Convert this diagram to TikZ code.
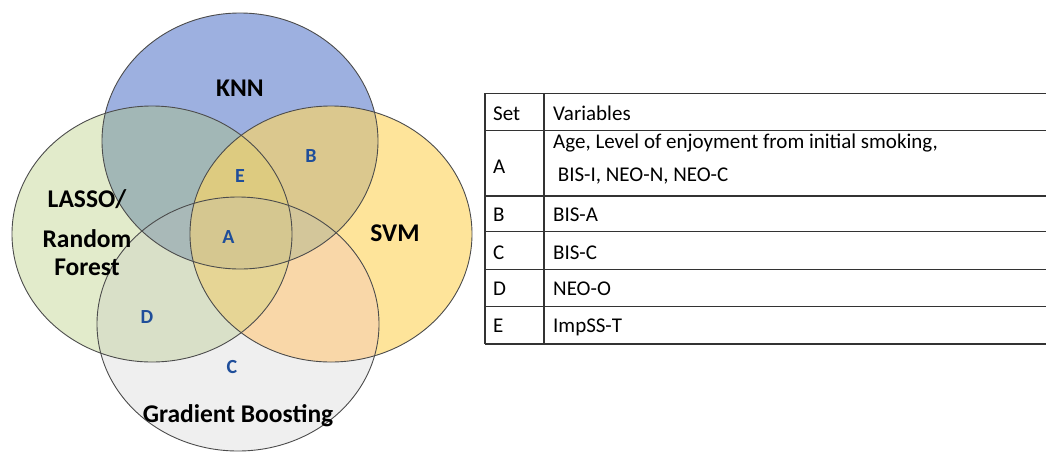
\documentclass[tikz,border=0pt]{standalone}
\usepackage{fontspec}
\setmainfont{Carlito}
\usepackage{tikz}

\definecolor{knnblue}{RGB}{59,97,193}
\definecolor{lassogreen}{RGB}{172,198,106}
\definecolor{svmyellow}{RGB}{254,214,100}
\definecolor{gbgrey}{RGB}{191,191,191}
\definecolor{gbpeach}{RGB}{255,215,172}
\definecolor{setblue}{RGB}{31,78,154}

\begin{document}
\begin{tikzpicture}[x=1pt,y=-1pt,
	method/.style={font=\fontsize{25.5}{28}\selectfont\bfseries, anchor=base, inner sep=0pt},
	setlbl/.style={font=\fontsize{20}{24}\selectfont\bfseries, text=setblue, anchor=base, inner sep=0pt},
	cell/.style={font=\fontsize{21}{25}\selectfont, anchor=base west, inner sep=0pt},
	rim/.style={draw=black!70, line width=0.9pt},
	tabline/.style={draw=black!80, line width=1.3pt}]
	\useasboundingbox (0,0) rectangle (1046,451);
	% the four sets
	\fill[knnblue, fill opacity=.5] (240,141) ellipse [x radius=138pt, y radius=128pt];
	\fill[lassogreen, fill opacity=.35] (152,234) ellipse [x radius=140pt, y radius=128pt];
	\fill[svmyellow, fill opacity=.65] (331,234) ellipse [x radius=141pt, y radius=128pt];
	\fill[gbgrey, fill opacity=.25] (238,324) ellipse [x radius=141pt, y radius=127pt];
	% warmer tone where SVM meets Gradient Boosting only
	\begin{scope}[even odd rule]
		\clip (238,324) ellipse [x radius=141pt, y radius=127pt];
		\clip (0,0) rectangle (1046,451) (152,234) ellipse [x radius=140pt, y radius=128pt];
		\clip (0,0) rectangle (1046,451) (240,141) ellipse [x radius=138pt, y radius=128pt];
		\fill[gbpeach, fill opacity=.7] (331,234) ellipse [x radius=141pt, y radius=128pt];
	\end{scope}
	\foreach \cx/\cy/\rx/\ry in {240/141/138/128, 152/234/140/128, 331/234/141/128, 238/324/141/127}
	\draw[rim] (\cx,\cy) ellipse [x radius=\rx pt, y radius=\ry pt];
	% method names
	\node[method] (knn) at (240,96) {KNN};
	\node[method] (lasso) at (87,207) {LASSO/};
	\node[method] (random) at (87,247) {Random};
	\node[method] (forest) at (87,275) {Forest};
	\node[method] (svm) at (395,241) {SVM};
	\node[method] (gb) at (238,422) {Gradient Boosting};
	% set letters
	\foreach \s/\x/\y in {A/228.5/243, B/311/162, C/232/373, D/147/323, E/240/182}
	\node[setlbl] (lbl\s) at (\x,\y) {\s};
	% table
	\foreach \y in {93.3,130.7,196,231.7,269.3,306.7,344}
	\draw[tabline] (485,\y) -- (1046,\y);
	\draw[tabline] (485,93.3) -- (485,344);
	\draw[tabline] (544,93.3) -- (544,344);
	\node[cell] (hset) at (493,120) {Set};
	\node[cell] (hvar) at (553,120) {Variables};
	\node[cell] (setA) at (493,173.3) {A};
	\node[cell] (varA) at (553,148.3) {Age, Level of enjoyment from initial smoking,};
	\node[cell] (varAb) at (553,181.7) {\ BIS-I, NEO-N, NEO-C};
	\foreach \s/\v/\y in {B/BIS-A/221.7, C/BIS-C/259, D/NEO-O/295, E/ImpSS-T/332}{
		\node[cell] (set\s) at (493,\y) {\s};
		\node[cell] (var\s) at (553,\y) {\v};
	}
\end{tikzpicture}
\end{document}
